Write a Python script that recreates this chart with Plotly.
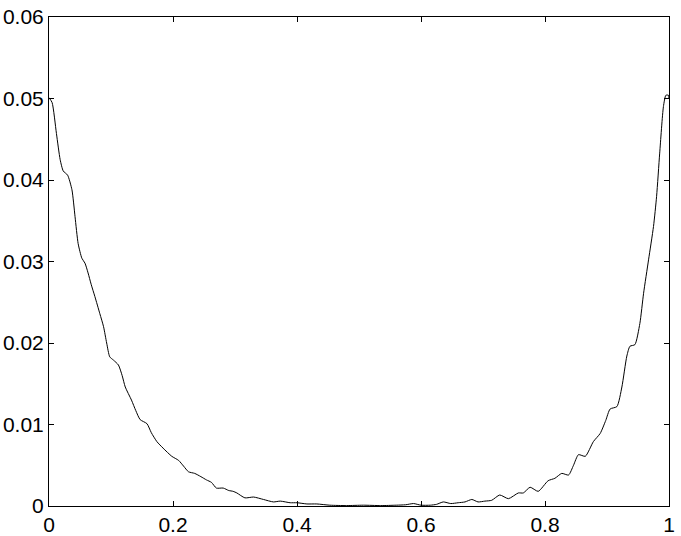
import plotly.graph_objects as go

# curve
x = [0, 0.005, 0.012, 0.018, 0.023, 0.03, 0.037, 0.042, 0.047, 0.053,
     0.058, 0.063, 0.068, 0.074, 0.082, 0.088, 0.093, 0.098, 0.104, 0.112,
     0.118, 0.123, 0.133, 0.140, 0.147, 0.158, 0.165, 0.174, 0.184, 0.198,
     0.209, 0.217, 0.225, 0.235, 0.245, 0.254, 0.262, 0.270, 0.281, 0.290,
     0.297, 0.303, 0.316, 0.330, 0.346, 0.362, 0.373, 0.389, 0.400, 0.416,
     0.432, 0.453, 0.48, 0.507, 0.535, 0.56, 0.575, 0.588, 0.600, 0.615,
     0.625, 0.636, 0.648, 0.660, 0.671, 0.682, 0.692, 0.703, 0.714, 0.727,
     0.741, 0.757, 0.765, 0.776, 0.789, 0.805, 0.816, 0.827, 0.838, 0.846,
     0.854, 0.865, 0.878, 0.889, 0.898, 0.905, 0.916, 0.924, 0.932, 0.937,
     0.945, 0.953, 0.959, 0.967, 0.975, 0.980, 0.985, 0.991, 0.995, 0.999, 1.0]
y = [0.0501, 0.0495, 0.0457, 0.0425, 0.0411, 0.0406, 0.0388, 0.0355, 0.0322, 0.0304,
     0.0298, 0.0286, 0.0272, 0.0257, 0.0236, 0.0220, 0.0200, 0.0183, 0.0179, 0.0173,
     0.0160, 0.0146, 0.0130, 0.0117, 0.0106, 0.0101, 0.0090, 0.0079, 0.0071, 0.0061,
     0.0056, 0.0049, 0.0042, 0.0040, 0.0036, 0.0032, 0.0029, 0.0022, 0.0022, 0.0019,
     0.0018, 0.0016, 0.0010, 0.0011, 0.0008, 0.0005, 0.0006, 0.0004, 0.0004, 0.00025,
     0.00025, 0.0001, 0.00005, 0.0001, 0.00005, 0.0001, 0.00015, 0.0003, 0.0001, 0.0001,
     0.0002, 0.0005, 0.0003, 0.0004, 0.0005, 0.0008, 0.0005, 0.0006, 0.0007, 0.00135,
     0.0009, 0.0016, 0.0016, 0.0023, 0.0018, 0.0031, 0.0034, 0.0040, 0.0038, 0.0050,
     0.0063, 0.0061, 0.0079, 0.0089, 0.0105, 0.0119, 0.0122, 0.0146, 0.0184, 0.0196,
     0.0198, 0.0224, 0.0261, 0.0302, 0.0343, 0.0380, 0.0433, 0.0490, 0.0504, 0.0504, 0.0500]

xticks = [0, 0.2, 0.4, 0.6, 0.8, 1]
xlabels = ["0", "0.2", "0.4", "0.6", "0.8", "1"]
yticks = [0, 0.01, 0.02, 0.03, 0.04, 0.05, 0.06]
ylabels = ["0", "0.01", "0.02", "0.03", "0.04", "0.05", "0.06"]

fig = go.Figure()
fig.add_trace(go.Scatter(x=x, y=y, mode="lines",
                         line=dict(color="black", width=1, shape="spline", smoothing=0.6),
                         showlegend=False))

axis_style = dict(showline=True, linecolor="black", linewidth=1, mirror="ticks",
                  ticks="inside", ticklen=5, tickcolor="black", showgrid=False,
                  zeroline=False, automargin=False)
fig.update_xaxes(range=[0, 1], tickvals=xticks, ticktext=xlabels, **axis_style)
fig.update_yaxes(range=[0, 0.06], tickvals=yticks, ticktext=ylabels, **axis_style)

fig.update_layout(width=681, height=536,
                  margin=dict(l=49, r=12, t=17, b=30),
                  paper_bgcolor="white", plot_bgcolor="white",
                  font=dict(family="Liberation Sans, Arial, sans-serif", size=21, color="black"))

# page body margin would shift the figure by 8px
fig.write_html("out.html", config={"displayModeBar": False},
               post_script="document.body.style.margin='0px';")
